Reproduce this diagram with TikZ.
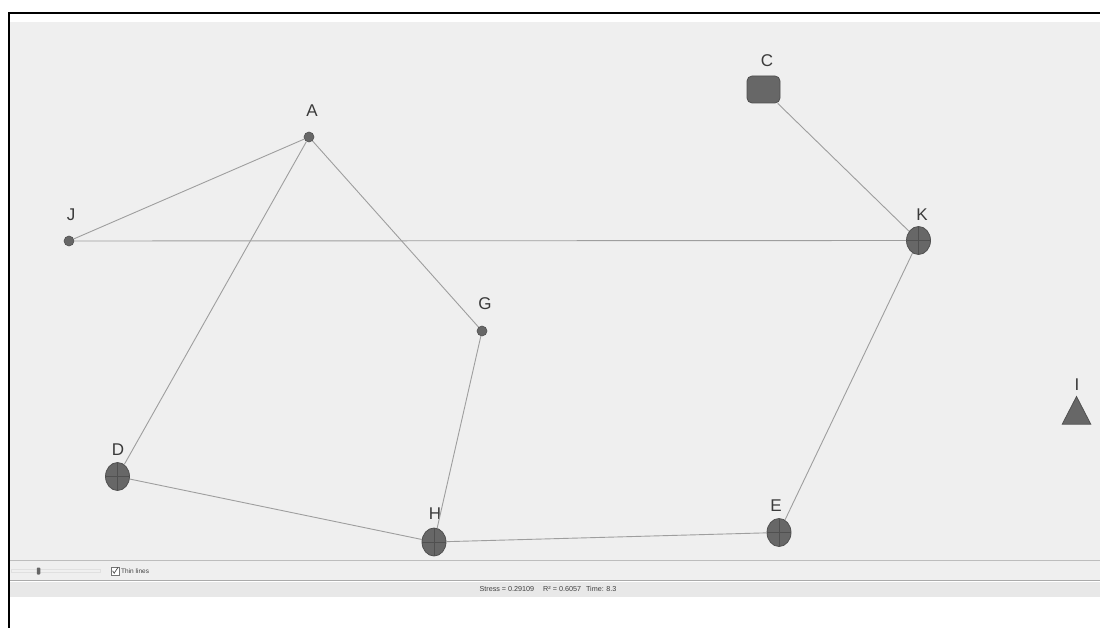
\documentclass[tikz,border=0pt]{standalone}
\usepackage{fontspec}
\setmainfont{Liberation Sans}
\usetikzlibrary{shapes.geometric}
\definecolor{bg}{HTML}{EFEFEF}
\definecolor{nodefill}{HTML}{676767}
\definecolor{nodeline}{HTML}{505050}
\definecolor{edgecol}{HTML}{9E9E9E}
\definecolor{lblcol}{HTML}{3A3A3A}
\definecolor{barline}{HTML}{BDBDBD}
\tikzset{
  dotnode/.style={circle,fill=nodefill,draw=nodeline,line width=0.6pt,minimum size=10pt,inner sep=0pt},
  bignode/.style={ellipse,fill=nodefill,draw=nodeline,line width=0.8pt,minimum width=24pt,minimum height=28pt,inner sep=0pt,
    path picture={\draw[nodeline,line width=0.7pt] (path picture bounding box.north) -- (path picture bounding box.south)
      (path picture bounding box.west) -- (path picture bounding box.east);}},
  sqnode/.style={rectangle,rounded corners=5pt,fill=nodefill,draw=nodeline,line width=0.8pt,minimum width=33pt,minimum height=27pt,inner sep=0pt},
  lbl/.style={text=lblcol,font=\fontsize{17}{17}\selectfont,inner sep=0pt},
  edge/.style={draw=edgecol,line width=0.9pt},
  small/.style={text=black!75,inner sep=0pt}
}
\begin{document}
\begin{tikzpicture}[x=1pt,y=-1pt]
\useasboundingbox (0,0) rectangle (1100,628);
\fill[white] (0,0) rectangle (1100,628);
% main panel
\fill[bg] (10,22) rectangle (1100,560);
% toolbar
\fill[bg] (10,561) rectangle (1100,580);
\draw[barline,line width=1.5pt] (10,560.5) -- (1100,560.5);
\draw[barline!90!black,line width=1.6pt] (10,580.5) -- (1100,580.5);
\fill[bg!97!black] (10,582) rectangle (1100,596.5);
% frame
\draw[black,line width=2.2pt] (9,628) -- (9,13) -- (1100,13);
% slider
\draw[black!12,fill=black!6,line width=0.5pt] (11,569.5) rectangle (100,572.5);
\node[fill=black!60,minimum width=3.5pt,minimum height=7pt,inner sep=0pt,rounded corners=0.8pt] (handle) at (38.5,571) {};
% checkbox
\node[draw=black!55,fill=white,minimum size=7.5pt,inner sep=0pt,line width=0.5pt] (cb) at (115,571) {};
\draw[black!70,line width=0.7pt] ([xshift=-2.4pt,yshift=0.2pt]cb.center) -- ([xshift=-0.8pt,yshift=-2.2pt]cb.center) -- ([xshift=3pt,yshift=3.6pt]cb.center);
\node[small,anchor=west,font=\fontsize{6.5}{6.5}\selectfont] (thin) at (121,571.5) {Thin lines};
% status text
\node[small,font=\fontsize{7.2}{7.2}\selectfont] (status) at (548,589) {Stress = 0.29109\hspace{9pt}R² = 0.6057\hspace{5pt}Time: 8.3};

% nodes
\node[dotnode] (a) at (309,137) {};
\node[dotnode] (j) at (69,241) {};
\node[dotnode] (g) at (482,331) {};
\node[sqnode] (c) at (763.5,89.5) {};
\node[bignode] (k) at (918.5,240.5) {};
\node[bignode] (d) at (117.5,476.5) {};
\node[bignode] (h) at (434,542) {};
\node[bignode] (e) at (779,532.5) {};
\node[regular polygon,regular polygon sides=3,fill=nodefill,draw=nodeline,line width=0.8pt,minimum size=33pt,inner sep=0pt,yscale=1.12] (i) at (1076.5,415) {};

% labels
\node[lbl] (la) at (312,111) {A};
\node[lbl] (lj) at (71,215) {J};
\node[lbl] (lg) at (485,304) {G};
\node[lbl] (lc) at (767,61) {C};
\node[lbl] (lk) at (922,215) {K};
\node[lbl] (li) at (1077,385) {I};
\node[lbl] (ld) at (118,450) {D};
\node[lbl] (lh) at (435,514) {H};
\node[lbl] (le) at (776,506) {E};

% edges
\path[edge] (a) -- (j);
\path[edge] (a) -- (d);
\path[edge] (a) -- (g);
\path[edge] (g) -- (h);
\path[edge] (d) -- (h);
\path[edge] (h) -- (e);
\path[edge] (e) -- (k);
\path[edge] (j) -- (k);
\path[edge] (c) -- (k);
\end{tikzpicture}
\end{document}
